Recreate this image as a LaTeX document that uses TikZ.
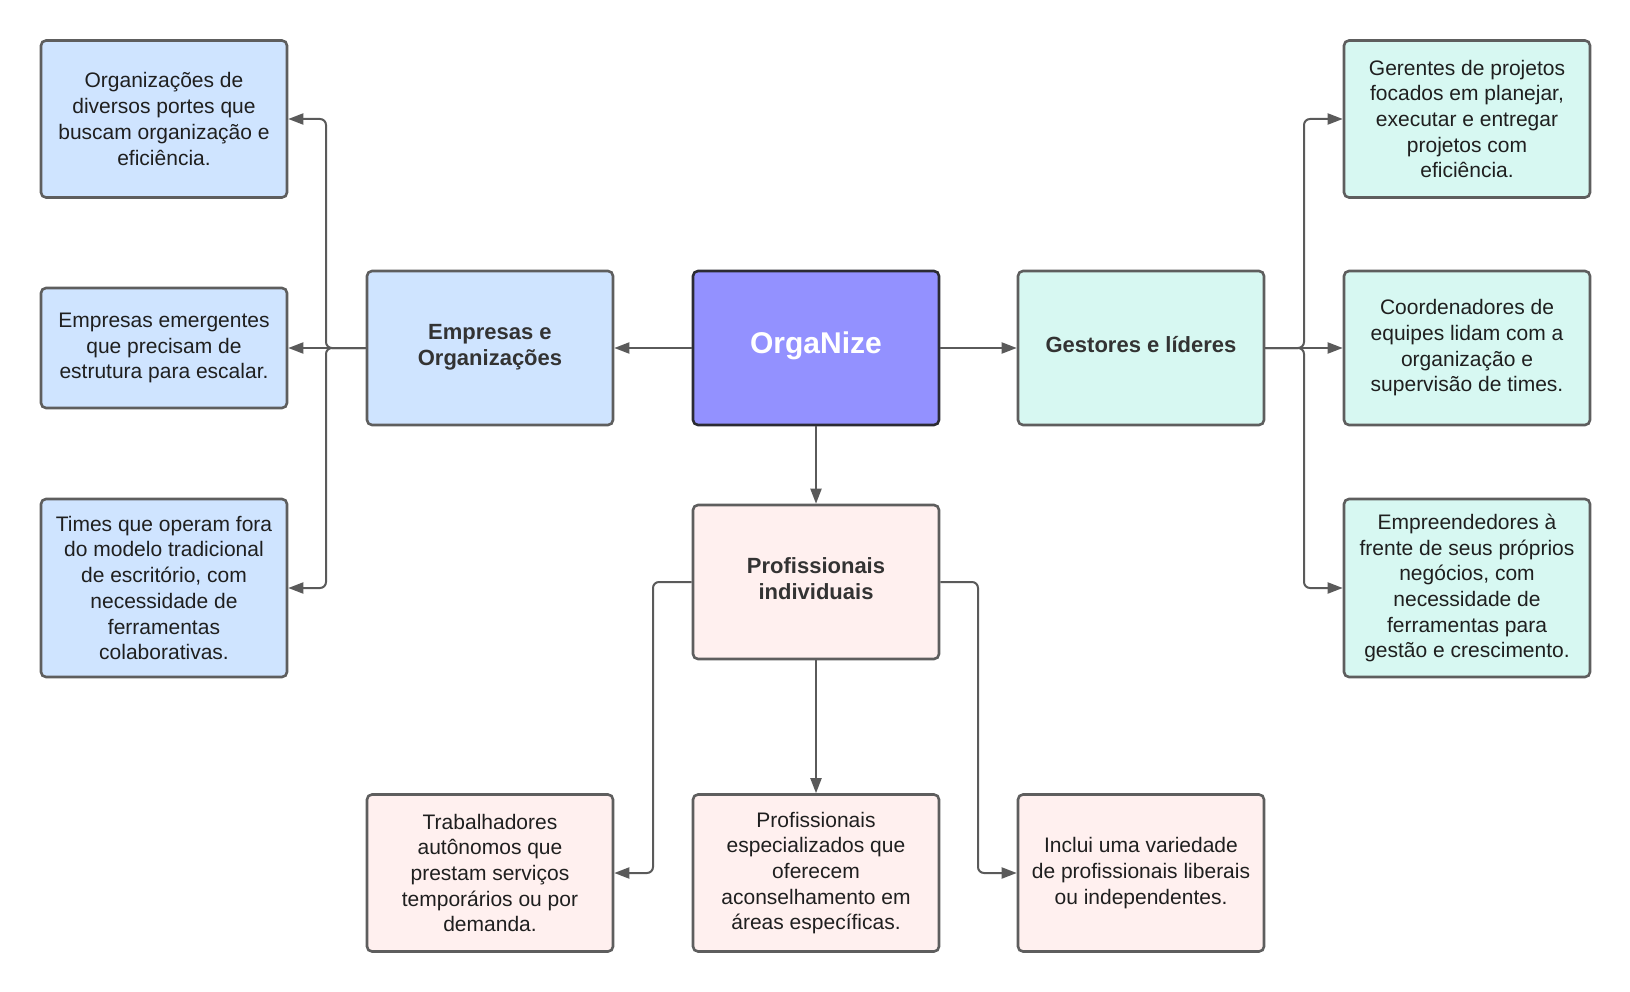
\documentclass[tikz,border=0pt]{standalone}
\usepackage{fontspec}
\setmainfont{Liberation Sans}
\usetikzlibrary{arrows.meta}
\definecolor{bluef}{HTML}{CFE4FF}
\definecolor{tealf}{HTML}{D7F8F2}
\definecolor{pinkf}{HTML}{FFF0EF}
\definecolor{purpf}{HTML}{9391FF}
\definecolor{bord}{HTML}{5E5E5E}
\definecolor{darkbord}{HTML}{2B2B33}
\definecolor{txt}{HTML}{1F1F1F}
\definecolor{ttl}{HTML}{333333}
\definecolor{conn}{HTML}{5A5A5A}
\newcommand{\ttlup}[1]{\raisebox{-4.5pt}[0pt][0pt]{\begin{tabular}{@{}c@{}}#1\end{tabular}}}
\tikzset{
  box/.style={draw=bord, line width=2.6pt, rounded corners=5pt, minimum width=246pt,
    inner sep=0pt, align=center, text=txt, font=\fontsize{21}{25.7}\selectfont},
  titlebox/.style={box, text=ttl, font=\fontsize{22}{26.5}\selectfont\bfseries},
  conn/.style={draw=conn, line width=2pt, rounded corners=6pt, -{Triangle[length=15pt,width=11pt]}},
}
\begin{document}
\begin{tikzpicture}[x=1pt,y=-1pt]
\useasboundingbox (0,0) rectangle (1630,992);
% central
\node[box, draw=darkbord, fill=purpf, text=white, minimum height=154pt, font=\fontsize{30}{34}\selectfont\bfseries] (org) at (816,348) {\ttlup{OrgaNize}};
\node[titlebox, fill=bluef, minimum height=154pt] (emp) at (490,348) {\ttlup{Empresas e\\Organizações}};
\node[titlebox, fill=tealf, minimum height=154pt] (ges) at (1141,348) {\ttlup{Gestores e líderes}};
\node[titlebox, fill=pinkf, minimum height=154pt] (pro) at (816,582) {\ttlup{Profissionais\\individuais}};
% left column
\node[box, fill=bluef, minimum height=157pt] (l1) at (164,119) {Organizações de\\diversos portes que\\buscam organização e\\eficiência.};
\node[box, fill=bluef, minimum height=120pt] (l2) at (164,348) {Empresas emergentes\\que precisam de\\estrutura para escalar.};
\node[box, fill=bluef, minimum height=178pt] (l3) at (164,588) {Times que operam fora\\do modelo tradicional\\de escritório, com\\necessidade de\\ferramentas\\colaborativas.};
% right column
\node[box, fill=tealf, minimum height=157pt] (r1) at (1467,119) {Gerentes de projetos\\focados em planejar,\\executar e entregar\\projetos com\\eficiência.};
\node[box, fill=tealf, minimum height=154pt] (r2) at (1467,348) {Coordenadores de\\equipes lidam com a\\organização e\\supervisão de times.};
\node[box, fill=tealf, minimum height=178pt] (r3) at (1467,588) {Empreendedores à\\frente de seus próprios\\negócios, com\\necessidade de\\ferramentas para\\gestão e crescimento.};
% bottom row
\node[box, fill=pinkf, minimum height=157pt] (b1) at (490,873) {Trabalhadores\\autônomos que\\prestam serviços\\temporários ou por\\demanda.};
\node[box, fill=pinkf, minimum height=157pt] (b2) at (816,873) {Profissionais\\especializados que\\oferecem\\aconselhamento em\\áreas específicas.};
\node[box, fill=pinkf, minimum height=157pt] (b3) at (1141,873) {Inclui uma variedade\\de profissionais liberais\\ou independentes.};
% coordinates
\coordinate (lt) at (326,0);
\coordinate (rt) at (1304,0);
\coordinate (pl) at (653,0);
\coordinate (pr) at (978,0);
% connectors
\draw[conn] (org.west) -- (emp.east);
\draw[conn] (org.east) -- (ges.west);
\draw[conn] (org.south) -- (pro.north);
\draw[conn] (emp.west) -| (lt |- l3.east) -- (l3.east);
\draw[conn] (emp.west) -| (lt |- l1.east) -- (l1.east);
\draw[conn] (emp.west) -- (l2.east);
\draw[conn] (ges.east) -| (rt |- r1.west) -- (r1.west);
\draw[conn] (ges.east) -| (rt |- r3.west) -- (r3.west);
\draw[conn] (ges.east) -- (r2.west);
\draw[conn] (pro.west) -| (pl |- b1.east) -- (b1.east);
\draw[conn] (pro.east) -| (pr |- b3.west) -- (b3.west);
\draw[conn] (pro.south) -- (b2.north);
\end{tikzpicture}
\end{document}
